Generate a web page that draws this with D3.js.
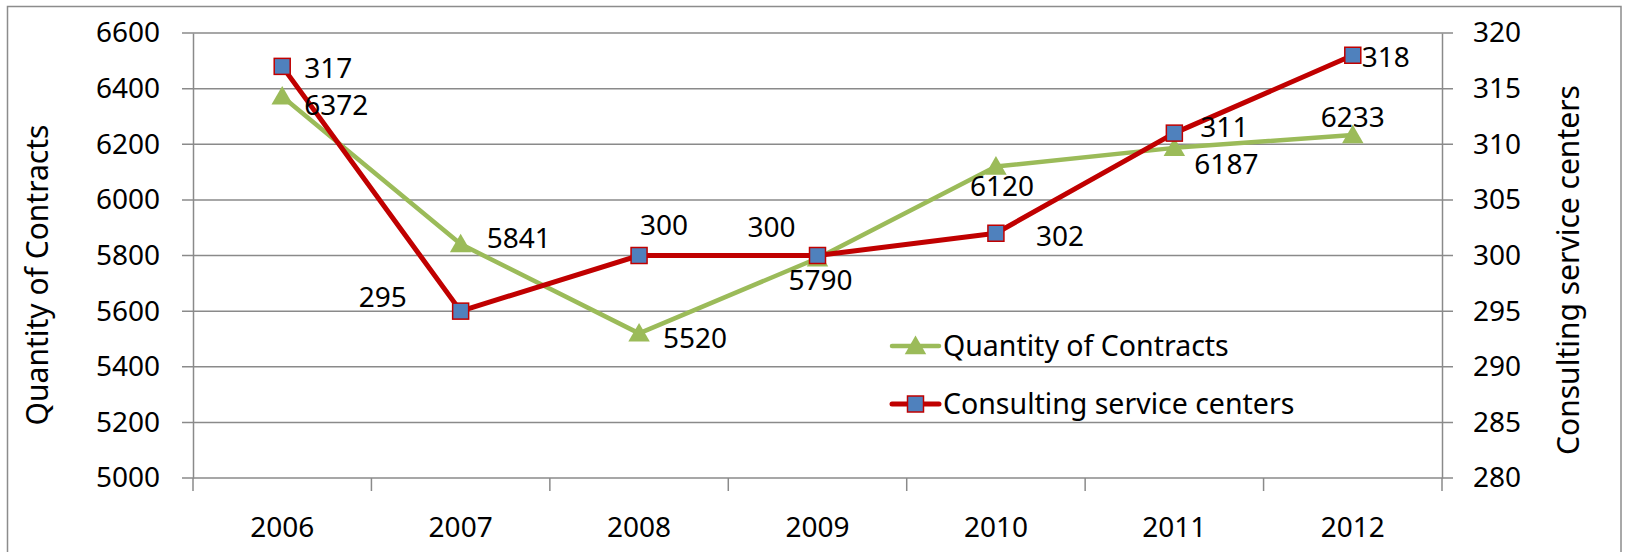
<!DOCTYPE html>
<html>
<head>
<meta charset="utf-8">
<script src="https://cdn.jsdelivr.net/npm/d3@7"></script>
<style>
  html, body { margin: 0; padding: 0; background: #fff; }
  svg { display: block; }
  text { font-family: "Noto Sans", "Open Sans", sans-serif; fill: #000; }
</style>
</head>
<body>
<svg id="chart"></svg>
<script>
// ---- data ----
const years = ["2006", "2007", "2008", "2009", "2010", "2011", "2012"];
const contracts = [6372, 5841, 5520, 5790, 6120, 6187, 6233];
const centers = [317, 295, 300, 300, 302, 311, 318];
const leftTicks = [5000, 5200, 5400, 5600, 5800, 6000, 6200, 6400, 6600];
const rightTicks = [280, 285, 290, 295, 300, 305, 310, 315, 320];
const seriesNames = ["Quantity of Contracts", "Consulting service centers"];

// label nudges (px) so they sit like the original
const contractLabelPos = [[22, 9], [26, -6], [24, 5], [3, 22], [6, 20], [20, 16], [0, -18]];
const centerLabelPos = [[22, 2], [-102, -14], [25, -30], [-46, -28], [40, 3], [26, -6], [9, 2]];

const W = 1625, H = 552;
const margin = { top: 33, left: 193, right: W - 1442, bottom: H - 478 };
const FONT = 28;

const svg = d3.select("#chart").attr("width", W).attr("height", H);

// outer border
svg.append("rect")
    .attr("x", 7.5).attr("y", 6.5)
    .attr("width", 1621 - 7.5).attr("height", 560)
    .attr("fill", "none").attr("stroke", "#8c8c8c").attr("stroke-width", 1.5);

const x = d3.scaleBand().domain(years).range([margin.left, W - margin.right]);
const yL = d3.scaleLinear().domain([5000, 6600]).range([H - margin.bottom, margin.top]);
const yR = d3.scaleLinear().domain([280, 320]).range([H - margin.bottom, margin.top]);

const gridColor = "#8a8a8a";

// gridlines
svg.append("g")
    .selectAll("line")
    .data(leftTicks)
    .join("line")
    .attr("x1", margin.left - 11).attr("x2", W - margin.right + 11)
    .attr("y1", d => yL(d)).attr("y2", d => yL(d))
    .attr("stroke", gridColor).attr("stroke-width", 1.5);

// left axis
const leftAxis = svg.append("g")
    .attr("transform", `translate(${margin.left},0)`)
    .call(d3.axisLeft(yL).tickValues(leftTicks).tickSize(0).tickPadding(33).tickFormat(d3.format("d")));
leftAxis.select(".domain").attr("stroke", gridColor).attr("stroke-width", 1.5);
leftAxis.selectAll("text").attr("font-size", FONT).attr("font-family", null);

// right axis
const rightAxis = svg.append("g")
    .attr("transform", `translate(${W - margin.right},0)`)
    .call(d3.axisRight(yR).tickValues(rightTicks).tickSize(0).tickPadding(31));
rightAxis.select(".domain").attr("stroke", gridColor).attr("stroke-width", 1.5);
rightAxis.selectAll("text").attr("font-size", FONT).attr("font-family", null);

// bottom axis: ticks at category boundaries
const bottom = H - margin.bottom;
const bounds = years.map(d => x(d)).concat([x(years[years.length - 1]) + x.bandwidth()]);
svg.append("g")
    .selectAll("line")
    .data(bounds)
    .join("line")
    .attr("x1", d => d).attr("x2", d => d)
    .attr("y1", bottom).attr("y2", bottom + 13)
    .attr("stroke", gridColor).attr("stroke-width", 1.5);
svg.append("g")
    .selectAll("text")
    .data(years)
    .join("text")
    .attr("x", d => x(d) + x.bandwidth() / 2)
    .attr("y", 537)
    .attr("text-anchor", "middle")
    .attr("font-size", FONT)
    .text(d => d);

// axis titles
svg.append("text")
    .attr("transform", `translate(48,275) rotate(-90)`)
    .attr("text-anchor", "middle")
    .attr("font-size", 30)
    .text("Quantity of Contracts");
svg.append("text")
    .attr("transform", `translate(1579,270) rotate(-90)`)
    .attr("text-anchor", "middle")
    .attr("font-size", 30)
    .text("Consulting service centers");

const cx = (d, i) => x(years[i]) + x.bandwidth() / 2;

// lines
const green = "#9BBB59", red = "#C00000", blue = "#4F81BD";
svg.append("path")
    .datum(contracts)
    .attr("fill", "none").attr("stroke", green).attr("stroke-width", 4.5)
    .attr("stroke-linejoin", "round")
    .attr("d", d3.line().x(cx).y(d => yL(d)));
svg.append("path")
    .datum(centers)
    .attr("fill", "none").attr("stroke", red).attr("stroke-width", 5)
    .attr("stroke-linejoin", "round")
    .attr("d", d3.line().x(cx).y(d => yR(d)));

// markers
const tri = d3.symbol().type(d3.symbolTriangle).size(200);
svg.append("g")
    .selectAll("path")
    .data(contracts)
    .join("path")
    .attr("transform", (d, i) => `translate(${cx(d, i)},${yL(d) + 2})`)
    .attr("d", tri)
    .attr("fill", green);
svg.append("g")
    .selectAll("rect")
    .data(centers)
    .join("rect")
    .attr("x", (d, i) => cx(d, i) - 8).attr("y", d => yR(d) - 8)
    .attr("width", 16).attr("height", 16)
    .attr("fill", blue).attr("stroke", red).attr("stroke-width", 1.5);

// data labels
svg.append("g")
    .selectAll("text")
    .data(contracts)
    .join("text")
    .attr("x", (d, i) => cx(d, i) + contractLabelPos[i][0])
    .attr("y", (d, i) => yL(d) + contractLabelPos[i][1])
    .attr("dy", "0.35em")
    .attr("text-anchor", (d, i) => contractLabelPos[i][0] > 10 ? "start" : "middle")
    .attr("font-size", FONT)
    .text(d => d);
svg.append("g")
    .selectAll("text")
    .data(centers)
    .join("text")
    .attr("x", (d, i) => cx(d, i) + centerLabelPos[i][0])
    .attr("y", (d, i) => yR(d) + centerLabelPos[i][1])
    .attr("dy", "0.35em")
    .attr("text-anchor", (d, i) => (i === 2 || i === 3) ? "middle" : "start")
    .attr("font-size", FONT)
    .text(d => d);

// legend
const legend = svg.append("g");
const legendY = [346, 404];
legend.selectAll("line")
    .data(seriesNames)
    .join("line")
    .attr("x1", 892).attr("x2", 939)
    .attr("y1", (d, i) => legendY[i]).attr("y2", (d, i) => legendY[i])
    .attr("stroke", (d, i) => i === 0 ? green : red)
    .attr("stroke-width", (d, i) => i === 0 ? 4.5 : 5)
    .attr("stroke-linecap", "round");
legend.append("path")
    .attr("transform", `translate(915.5,${legendY[0] + 2})`)
    .attr("d", tri).attr("fill", green);
legend.append("rect")
    .attr("x", 907.5).attr("y", legendY[1] - 8)
    .attr("width", 16).attr("height", 16)
    .attr("fill", blue).attr("stroke", red).attr("stroke-width", 1.5);
legend.selectAll("text")
    .data(seriesNames)
    .join("text")
    .attr("x", 943)
    .attr("y", (d, i) => legendY[i])
    .attr("dy", "0.35em")
    .attr("font-size", 28.5)
    .text(d => d);
</script>
</body>
</html>
